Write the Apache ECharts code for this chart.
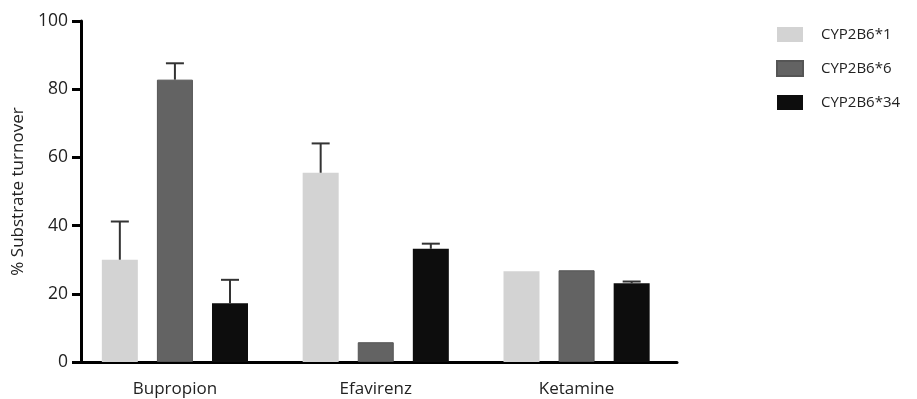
<!DOCTYPE html>
<html><head><meta charset="utf-8">
<script src="https://cdn.jsdelivr.net/npm/echarts@6/dist/echarts.min.js"></script>
<style>html,body{margin:0;padding:0;background:#fff}#c{width:917px;height:399px}</style>
</head><body><div id="c"></div>
<script>
const categories = ['Bupropion', 'Efavirenz', 'Ketamine'];
const seriesNames = ['CYP2B6*1', 'CYP2B6*6', 'CYP2B6*34'];
const means1 = [30, 55.5, 26.6];
const means6 = [82.8, 5.8, 26.9];
const means34 = [17.2, 33.2, 23.1];
const errUp1 = [41.2, 64.1, null];
const errUp6 = [87.6, null, null];
const errUp34 = [24.1, 34.7, 23.6];
const yTicks = [0, 20, 40, 60, 80, 100];

const colors = ['#d3d3d3', '#636363', '#0d0d0d'];
const means = [means1, means6, means34];
const errs = [errUp1, errUp6, errUp34];
const BW = 36, GAP = 0.53;
const font = '"Open Sans", "DejaVu Sans", sans-serif';

const series = [];
seriesNames.forEach((n, i) => {
  series.push({
    name: n, type: 'bar', data: means[i], barWidth: BW, barGap: (GAP * 100) + '%',
    itemStyle: { color: colors[i], borderColor: i === 1 ? '#555' : colors[i], borderWidth: i === 1 ? 1 : 0 },
    z: 2
  });
});
seriesNames.forEach((n, i) => {
  series.push({
    type: 'custom', silent: true, z: 3,
    data: categories.map((c, k) => [k, means[i][k], errs[i][k]]),
    encode: { x: 0, y: 1 },
    renderItem: (params, api) => {
      const hi = api.value(2);
      if (hi === null || hi === undefined || isNaN(hi)) return;
      const base = api.coord([api.value(0), api.value(1)]);
      const top = api.coord([api.value(0), hi]);
      const off = (i - 1) * BW * (1 + GAP);
      const x = base[0] + off;
      const cap = 9;
      const st = { stroke: '#333', lineWidth: 2 };
      return { type: 'group', children: [
        { type: 'line', shape: { x1: x, y1: base[1], x2: x, y2: top[1] }, style: st },
        { type: 'line', shape: { x1: x - cap, y1: top[1], x2: x + cap, y2: top[1] }, style: st }
      ]};
    }
  });
});

const chart = echarts.init(document.getElementById('c'));
chart.setOption({
  animation: false,
  textStyle: { fontFamily: font },
  grid: { left: 74.5, right: 240, top: 21, bottom: 37 },
  legend: {
    data: seriesNames, orient: 'vertical', left: 776, top: 27, padding: 0,
    itemWidth: 26, itemHeight: 15, itemGap: 18,
    icon: 'rect',
    textStyle: { fontSize: 15, color: '#222', fontFamily: font, padding: [0, 0, 0, 13], lineHeight: 15 }
  },
  xAxis: {
    type: 'category', data: categories,
    axisLine: { lineStyle: { color: '#000', width: 3 } },
    axisTick: { alignWithLabel: true, length: 10, lineStyle: { color: '#000', width: 3 } },
    axisLabel: { fontSize: 17, color: '#222', margin: 19, fontFamily: font },
    splitLine: { show: false }
  },
  yAxis: {
    type: 'value', min: 0, max: 100, interval: 20, offset: -6.5,
    name: '% Substrate turnover', nameLocation: 'middle', nameGap: 54,
    nameTextStyle: { fontSize: 17, color: '#222', fontFamily: font },
    axisLine: { show: true, lineStyle: { color: '#000', width: 3 } },
    axisTick: { show: true, length: 9, lineStyle: { color: '#000', width: 3 } },
    axisLabel: { fontSize: 17.5, color: '#222', margin: 13, fontFamily: font,
      formatter: v => yTicks.includes(v) ? String(v) : '' },
    splitLine: { show: false }
  },
  series: series
});
</script></body></html>
